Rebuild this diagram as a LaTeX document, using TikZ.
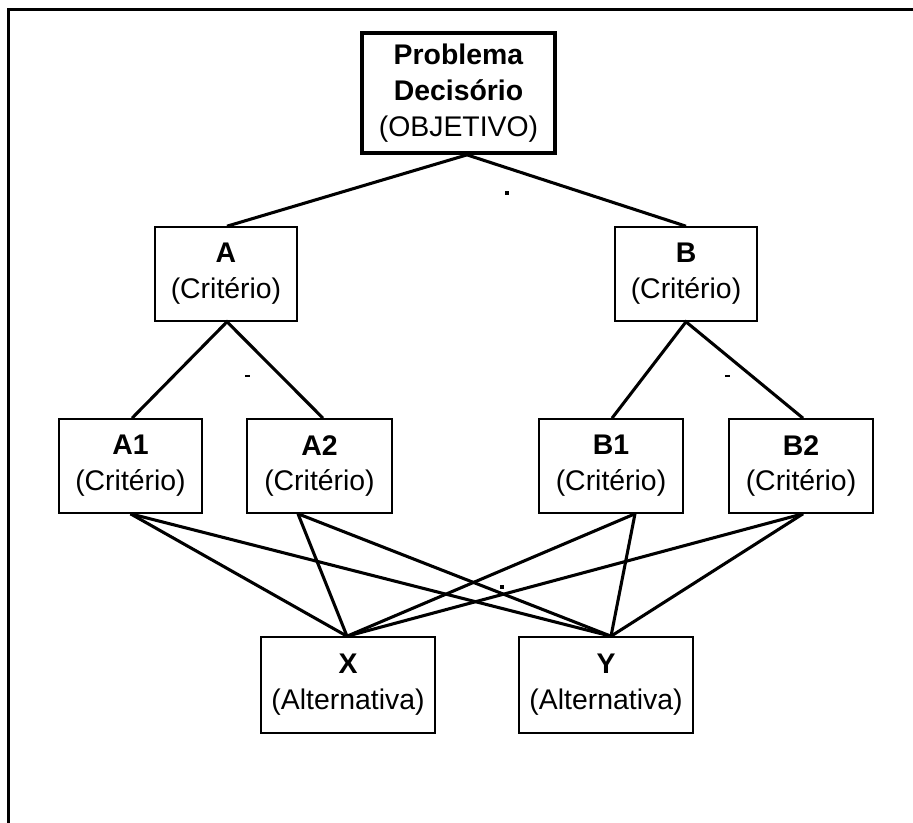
\documentclass[tikz,border=0pt]{standalone}
\usepackage{fontspec}
\setmainfont{Liberation Sans}
\usetikzlibrary{calc}
\begin{document}
\begin{tikzpicture}[x=0.75pt,y=-0.75pt,
  every node/.style={font=\fontsize{21.3}{26.8}\selectfont},
  crit/.style={draw,line width=1.2pt,inner sep=0pt,align=center,
    minimum height=70.5pt},
  goal/.style={draw,line width=2.8pt,inner sep=0pt,align=center,
    minimum width=144.75pt,minimum height=90pt},
  link/.style={line width=2.3pt},
  speck/.style={fill=black}]
\useasboundingbox (0,0) rectangle (913,823);
% open frame: top and left edges only
\draw[line width=1.6pt] (913,9.5) -- (8.5,9.5) -- (8.5,823);

% goal
\node[goal] (top) at (458.5,93) {\textbf{Problema}\\\textbf{Decisório}\\(OBJETIVO)};
% criteria
\node[crit,minimum width=106.5pt] (A) at (226,274) {\textbf{A}\\(Critério)};
\node[crit,minimum width=106.5pt] (B) at (686,274) {\textbf{B}\\(Critério)};
\node[crit,minimum width=107.25pt] (A1) at (130.5,466) {\textbf{A1}\\(Critério)};
\node[crit,minimum width=108.75pt] (A2) at (319.5,466) {\textbf{A2}\\(Critério)};
\node[crit,minimum width=108pt] (B1) at (611,466) {\textbf{B1}\\(Critério)};
\node[crit,minimum width=108pt] (B2) at (801,466) {\textbf{B2}\\(Critério)};
% alternatives
\node[crit,minimum width=130.5pt,minimum height=72pt] (X) at (348,685) {\textbf{X}\\(Alternativa)};
\node[crit,minimum width=130.5pt,minimum height=72pt] (Y) at (606,685) {\textbf{Y}\\(Alternativa)};

% attachment points
\coordinate (tb) at ($(top.south)+(8.5,0)$);
\coordinate (At) at ($(A.north)+(1,0)$);
\coordinate (Bt) at (B.north);
\coordinate (Ab) at ($(A.south)+(1,0)$);
\coordinate (Bb) at (B.south);
\coordinate (A1t) at ($(A1.north)+(1.5,0)$);
\coordinate (A2t) at ($(A2.north)+(3.5,0)$);
\coordinate (B1t) at ($(B1.north)+(1,0)$);
\coordinate (B2t) at ($(B2.north)+(2,0)$);
\coordinate (A1b) at (A1.south);
\coordinate (A2b) at ($(A2.south)+(-21.5,0)$);
\coordinate (B1b) at ($(B1.south)+(24,0)$);
\coordinate (B2b) at ($(B2.south)+(2,0)$);
\coordinate (Xt) at ($(X.north)+(-1,0)$);
\coordinate (Yt) at ($(Y.north)+(5,0)$);

% hierarchy links
\draw[link] (At) -- (tb) -- (Bt);
\draw[link] (A1t) -- (Ab) -- (A2t);
\draw[link] (B1t) -- (Bb) -- (B2t);
\foreach \c in {A1b,A2b,B1b,B2b}{
  \draw[link] (\c) -- (Xt);
  \draw[link] (\c) -- (Yt);
}

% stray specks
\fill[speck] (504.5,191) rectangle (508.5,195);
\fill[speck] (244.5,375) rectangle (249.5,377);
\fill[speck] (724.5,375) rectangle (729.5,377);
\fill[speck] (500,585) rectangle (504,589);
\end{tikzpicture}
\end{document}
